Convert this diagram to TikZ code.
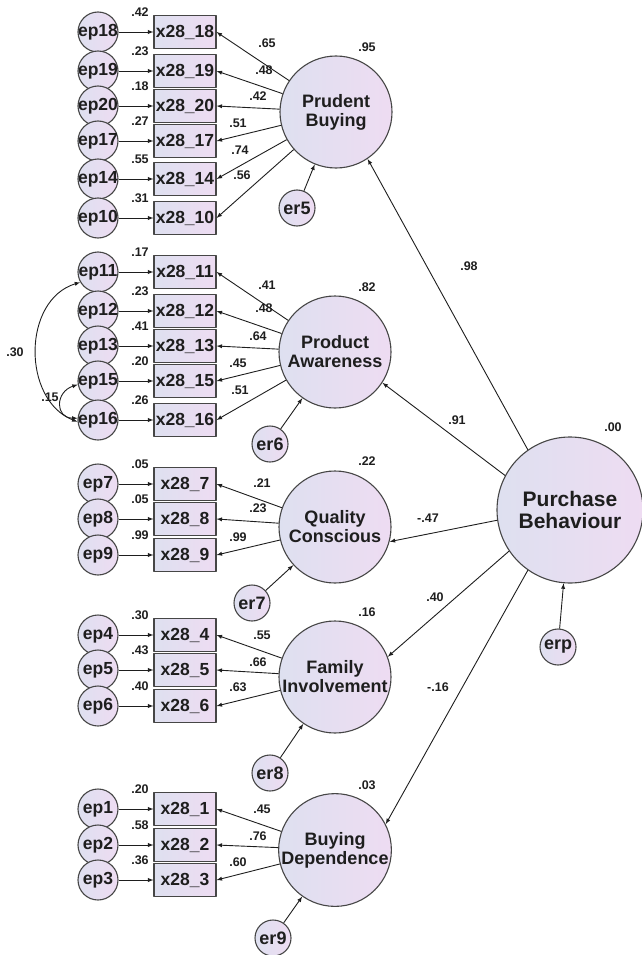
\documentclass[tikz,border=0pt]{standalone}
\usepackage{fontspec}
\setmainfont{Liberation Sans}
\usetikzlibrary{%
  arrows,%
  positioning%
}
\definecolor{lavleft}{RGB}{222,224,240}
\definecolor{lavright}{RGB}{238,220,242}
\definecolor{rim}{RGB}{70,70,70}
\definecolor{ink}{RGB}{30,30,30}

\begin{document}
\begin{tikzpicture}[
    x=1pt,y=-1pt,
    >=latex,line join=round,
    shade/.style={left color=lavleft,right color=lavright,draw=rim,line width=1.1pt},
    latent/.style={shade,circle,inner sep=0pt,minimum size=112pt,align=center,
        font=\fontsize{18}{19}\selectfont\bfseries,text=ink},
    topvar/.style={latent,minimum size=146pt,font=\fontsize{21}{22}\selectfont\bfseries},
    errvar/.style={shade,circle,inner sep=0pt,minimum size=40pt,
        font=\fontsize{17.5}{18}\selectfont\bfseries,text=ink},
    resvar/.style={errvar,minimum size=36pt,font=\fontsize{18}{18}\selectfont\bfseries},
    obsvar/.style={shade,rectangle,inner sep=0pt,minimum width=62pt,minimum height=33pt,
        font=\fontsize{17.5}{18}\selectfont\bfseries,text=ink},
    path/.style={->,draw=ink,line width=0.9pt},
    coef/.style={font=\fontsize{12.5}{13}\selectfont\bfseries,text=ink,inner sep=0pt}
  ]
    \useasboundingbox (0,0) rectangle (642,955);

    % latent factors
    \node [topvar] (purch) at (570,510) {Purchase\\Behaviour};
    \node [latent] (prud)  at (336,112) {Prudent\\Buying};
    \node [latent] (aware) at (335,352) {Product\\Awareness};
    \node [latent] (qual)  at (335,527) {Quality\\Conscious};
    \node [latent] (fam)   at (335,677) {Family\\Involvement};
    \node [latent] (dep)   at (335,850) {Buying\\Dependence};

    % indicators
    \foreach \i/\y/\r/\l/\lx/\ly/\f in {
        18/32/.42/.65/267/43/prud, 19/71/.23/.48/264/70/prud,
        20/106/.18/.42/258/96/prud, 17/141/.27/.51/238/123/prud,
        14/179/.55/.74/240/150/prud, 10/218/.31/.56/242/175/prud,
        11/272/.17/.41/267/285/aware, 12/311/.23/.48/264/308/aware,
        13/346/.41/.64/258/336/aware, 15/381/.20/.45/238/363/aware,
        16/420/.26/.51/240/390/aware,
        7/484/.05/.21/262/483/qual, 8/519/.05/.23/258/508/qual,
        9/555/.99/.99/238/537/qual,
        4/635/.30/.55/262/635/fam, 5/670/.43/.66/258/662/fam,
        6/706/.40/.63/238/687/fam,
        1/809/.20/.45/262/809/dep, 2/845/.58/.76/258/836/dep,
        3/880/.36/.60/238/862/dep}{
      \node [obsvar] (x\i)  at (185,\y) {x28\_\i};
      \node [errvar] (ep\i) at (98,\y)  {\makebox[0pt]{ep\i}};
      \draw [path] (ep\i) -- (x\i);
      \draw [path] (\f) -- (x\i.east);
      \node [coef] at (140,\y-20) {\r};
      \node [coef] at (\lx,\ly) {\l};
    }

    % residuals of the factors
    \node [resvar] (er5) at (297,208) {er5};
    \node [resvar] (er6) at (270,444) {er6};
    \node [resvar] (er7) at (252,603) {er7};
    \node [resvar] (er8) at (270,773) {er8};
    \node [resvar] (er9) at (273,938) {er9};
    \node [resvar] (erp) at (558,647) {erp};
    \draw [path] (er5) -- (prud);
    \draw [path] (er6) -- (aware);
    \draw [path] (er7) -- (qual);
    \draw [path] (er8) -- (fam);
    \draw [path] (er9) -- (dep);
    \draw [path] (erp) -- (purch);

    % structural paths
    \draw [path] (purch.125) -- (prud.304);
    \draw [path] (purch.152) -- (aware.327);
    \draw [path] (purch.188) -- (qual.345);
    \draw [path] (purch.214) -- (fam.21);
    \draw [path] (purch.235) -- (dep.27);

    % covariances
    \draw [path,<->] (ep11.210) .. controls (22,300) and (22,400) .. (ep16.185);
    \draw [path,<->] (ep15.190) .. controls (55,392) and (55,418) .. (ep16.175);

    % squared multiple correlations and weights
    \node [coef] at (367,47)  {.95};
    \node [coef] at (367,287) {.82};
    \node [coef] at (367,461) {.22};
    \node [coef] at (367,612) {.16};
    \node [coef] at (367,785) {.03};
    \node [coef] at (613,427) {.00};
    \node [coef] at (469,266) {.98};
    \node [coef] at (457,420) {.91};
    \node [coef] at (428,518) {-.47};
    \node [coef] at (435,597) {.40};
    \node [coef] at (438,687) {-.16};
    \node [coef] at (15,352)  {.30};
    \node [coef] at (50,397)  {.15};
\end{tikzpicture}
\end{document}
